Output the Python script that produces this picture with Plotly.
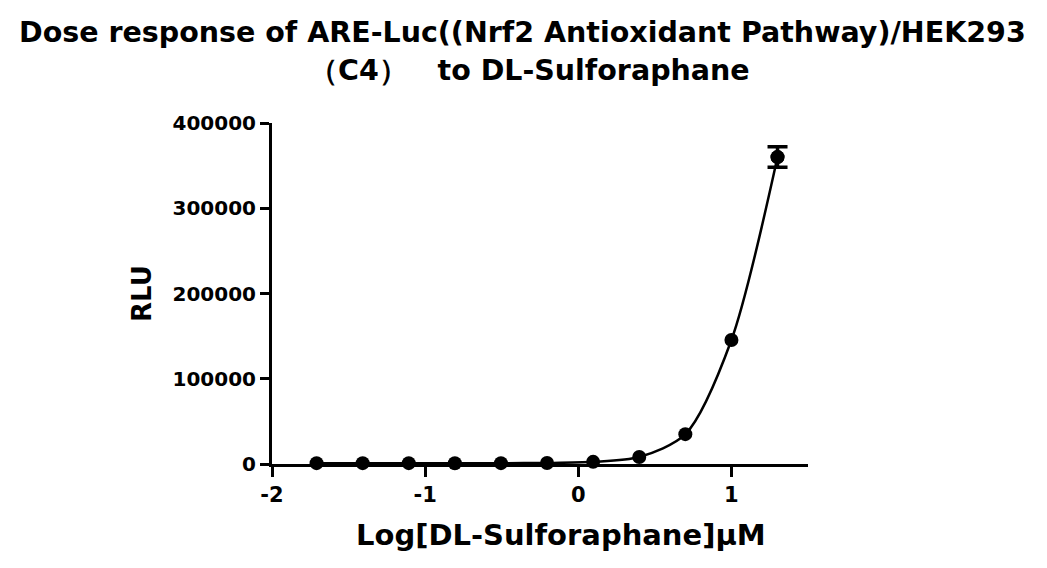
import plotly.graph_objects as go

# Data
log_conc = [-1.709, -1.408, -1.107, -0.806, -0.505, -0.204, 0.097, 0.398, 0.699, 1.0, 1.301]
rlu_mean = [1000, 1000, 1000, 900, 1000, 1200, 2500, 8200, 35000, 145500, 360000]
rlu_err = [0, 0, 0, 0, 0, 0, 0, 0, 0, 0, 12000]

x_ticks = [-2, -1, 0, 1]
y_ticks = [0, 100000, 200000, 300000, 400000]

title_line1 = "Dose response of ARE-Luc((Nrf2 Antioxidant Pathway)/HEK293"
title_line2 = "\uff08C4\uff09\u00a0\u00a0 to DL-Sulforaphane"
x_title = "Log[DL-Sulforaphane]\u00b5M"
y_title = "RLU"

FONT = "DejaVu Sans"

fig = go.Figure()

# fitted curve (smooth line through the points)
fig.add_trace(go.Scatter(
    x=log_conc, y=rlu_mean, mode="lines",
    line=dict(color="black", width=2.5, shape="spline", smoothing=0.8),
    cliponaxis=False, hoverinfo="skip", showlegend=False,
))

# data points
fig.add_trace(go.Scatter(
    x=log_conc, y=rlu_mean, mode="markers",
    marker=dict(color="black", size=14, symbol="circle"),
    cliponaxis=False, showlegend=False,
))

# error bars (only where SD > 0)
err_x = [x for x, e in zip(log_conc, rlu_err) if e > 0]
err_y = [y for y, e in zip(rlu_mean, rlu_err) if e > 0]
err_v = [e for e in rlu_err if e > 0]
fig.add_trace(go.Scatter(
    x=err_x, y=err_y, mode="markers",
    marker=dict(color="black", size=14, symbol="circle"),
    error_y=dict(type="data", array=err_v, visible=True, color="black", thickness=3.5, width=10),
    cliponaxis=False, showlegend=False,
))

# title (two centred lines above the plot)
fig.add_annotation(
    text="<b>" + title_line1 + "</b>", xref="paper", yref="paper",
    x=0.468, y=1.264, xanchor="center", yanchor="middle", showarrow=False,
    font=dict(family=FONT, size=28.5, color="black"),
)
fig.add_annotation(
    text="<b>" + title_line2 + "</b>", xref="paper", yref="paper",
    x=0.4795, y=1.1525, xanchor="center", yanchor="middle", showarrow=False,
    font=dict(family=FONT, size=28.5, color="black"),
)
# x-axis title
fig.add_annotation(
    text="<b>" + x_title + "</b>", xref="paper", yref="paper",
    x=0.539, y=-0.208, xanchor="center", yanchor="middle", showarrow=False,
    font=dict(family=FONT, size=29, color="black"),
)

fig.update_layout(
    width=1039, height=560,
    paper_bgcolor="white", plot_bgcolor="white",
    margin=dict(l=264, r=239, t=115, b=104),
    xaxis=dict(
        range=[-2, 1.5], tickvals=x_ticks, ticktext=[f"<b>{v}</b>" for v in x_ticks],
        showline=True, linecolor="black", linewidth=3,
        ticks="outside", ticklen=10, tickwidth=3, tickcolor="black",
        showgrid=False, zeroline=False,
        tickfont=dict(family=FONT, size=21, color="black"),
    ),
    yaxis=dict(
        range=[0, 400000], tickvals=y_ticks, ticktext=[f"<b>{v}</b>" for v in y_ticks],
        showline=True, linecolor="black", linewidth=3,
        ticks="outside", ticklen=9, tickwidth=3, tickcolor="black",
        showgrid=False, zeroline=False,
        tickfont=dict(family=FONT, size=20, color="black"),
        title=dict(text="<b>" + y_title + "</b>", font=dict(family=FONT, size=26, color="black"), standoff=14),
    ),
)

fig.write_html("out.html")
